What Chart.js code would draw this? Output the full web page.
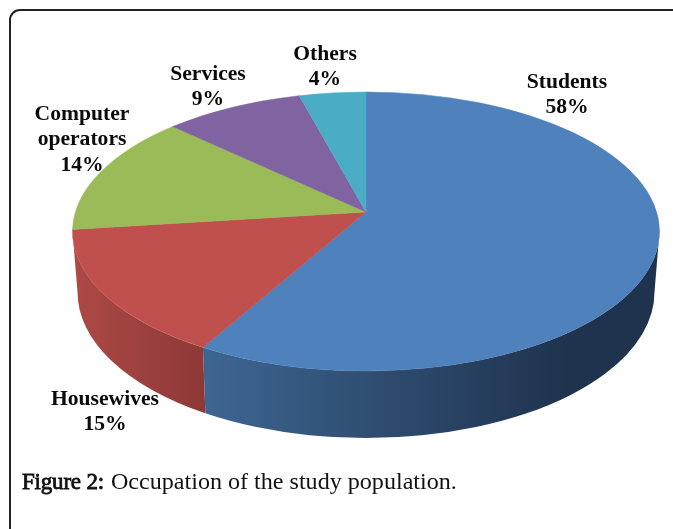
<!DOCTYPE html>
<html>
<head>
<meta charset="utf-8">
<style>
  html,body{margin:0;padding:0;background:#fff;overflow:hidden;width:673px;height:529px}
  #frame{position:absolute;left:9px;top:9px;width:900px;height:900px;border:2px solid #222;border-radius:11px;box-sizing:border-box}
  #wrap{position:absolute;left:0;top:0;width:673px;height:529px}
  #cap{position:absolute;left:22px;top:468px;font:24.1px "Liberation Serif",serif;color:#111;white-space:nowrap}
  #cap b{font-weight:400;font-size:23px;letter-spacing:-0.2px;-webkit-text-stroke:0.8px #111;margin-right:1px}
</style>
</head>
<body>
<div id="frame"></div>
<div id="wrap"><canvas id="c" width="673" height="529"></canvas></div>
<div id="cap"><b>Figure 2:</b> Occupation of the study population.</div>
<script src="https://cdn.jsdelivr.net/npm/chart.js@4/dist/chart.umd.min.js"></script>
<script>
const categories = ["Students", "Housewives", "Computer operators", "Services", "Others"];
const shares = [58.2, 14.8, 14, 8.8, 4.2];
const topColors = ["#4f81bd", "#c0504d", "#9bbb59", "#8064a2", "#4bacc6"];
const wallStops = [
  [[0, "#3e6692"], [0.42, "#2d4a6d"], [0.8, "#1f334e"], [1, "#1f334e"]],
  [[0, "#ad4946"], [1, "#8e3937"]],
  [[0, "#7d964a"], [1, "#7d964a"]],
  [[0, "#675083"], [1, "#675083"]],
  [[0, "#3c8aa0"], [1, "#3c8aa0"]]
];
const labelCentres = [[567, 82], [105, 399], [82, 114], [208, 74], [325, 54]];
const labelFont = 'bold 21.6px "Liberation Serif", serif';
const labelLeading = 25.5;

const top3d = {cx: 366, cy: 231.5, rx: 293.5, ry: 139.5};
const base3d = {cx: 366, cy: 292, rx: 288.5, ry: 146};
const apexShift = 0.14;

function project(a) {
  const u = Math.cos(a), v = Math.sin(a), k = apexShift;
  const d = 1 - k * v;
  const phi = Math.atan2((v - k) / d, u * Math.sqrt(1 - k * k) / d);
  return phi + 2 * Math.PI * Math.round((a - phi) / (2 * Math.PI));
}
function baseAngle(phi) {
  const x = top3d.rx * Math.cos(phi) * 0.985;
  return Math.acos(Math.max(-1, Math.min(1, x / base3d.rx)));
}
const pie3d = {
  id: "pie3d",
  beforeDatasetsDraw(chart) {
    const ctx = chart.ctx;
    const arcs = chart.getDatasetMeta(0).data;
    const spans = arcs.map(e => [project(e.startAngle), project(e.endAngle)]);
    // side walls, only the part facing the viewer
    arcs.forEach((e, i) => {
      const lo = Math.max(spans[i][0], 0), hi = Math.min(spans[i][1], Math.PI);
      if (hi <= lo) return;
      const xLo = top3d.cx + top3d.rx * Math.cos(hi), xHi = top3d.cx + top3d.rx * Math.cos(lo);
      const g = ctx.createLinearGradient(xLo, 0, xHi, 0);
      wallStops[i].forEach(s => g.addColorStop(s[0], s[1]));
      ctx.beginPath();
      ctx.ellipse(top3d.cx, top3d.cy, top3d.rx, top3d.ry, 0, lo, hi, false);
      const bLo = lo === 0 ? 0 : baseAngle(lo), bHi = hi === Math.PI ? Math.PI : baseAngle(hi);
      ctx.ellipse(base3d.cx, base3d.cy, base3d.rx, base3d.ry, 0, bHi, bLo, true);
      ctx.closePath();
      ctx.fillStyle = g;
      ctx.fill();
    });
    // top face
    const ax = top3d.cx, ay = top3d.cy - apexShift * top3d.ry;
    arcs.forEach((e, i) => {
      ctx.beginPath();
      ctx.moveTo(ax, ay);
      ctx.ellipse(top3d.cx, top3d.cy, top3d.rx, top3d.ry, 0, spans[i][0], spans[i][1], false);
      ctx.closePath();
      ctx.fillStyle = topColors[i];
      ctx.strokeStyle = topColors[i];
      ctx.lineWidth = 0.5;
      ctx.fill();
      ctx.stroke();
    });
    return false;
  },
  afterDraw(chart) {
    const ctx = chart.ctx;
    ctx.save();
    ctx.font = labelFont;
    ctx.fillStyle = "#0a0a0a";
    ctx.textAlign = "center";
    ctx.textBaseline = "middle";
    categories.forEach((name, i) => {
      const lines = name.split(" ").concat(Math.round(shares[i]) + "%");
      lines.forEach((t, j) => ctx.fillText(t, labelCentres[i][0], labelCentres[i][1] + j * labelLeading));
    });
    ctx.restore();
  }
};
new Chart(document.getElementById("c"), {
  type: "pie",
  data: {labels: categories, datasets: [{data: shares, backgroundColor: topColors, borderWidth: 0}]},
  options: {
    responsive: false,
    animation: false,
    plugins: {legend: {display: false}, tooltip: {enabled: false}}
  },
  plugins: [pie3d]
});
</script>
</body>
</html>
